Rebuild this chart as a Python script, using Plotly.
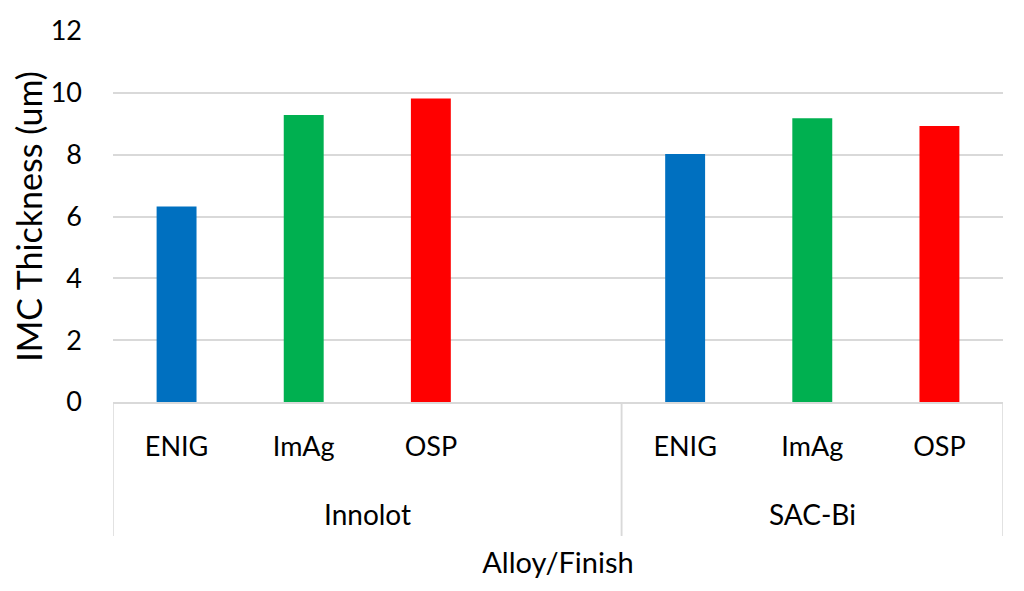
import plotly.graph_objects as go

alloys = ["Innolot", "Innolot", "Innolot", "Innolot", "SAC-Bi", "SAC-Bi", "SAC-Bi"]
finishes = ["ENIG", "ImAg", "OSP", "", "ENIG", "ImAg", "OSP"]
thickness = [6.32, 9.28, 9.82, None, 8.02, 9.18, 8.93]
finish_colors = {"ENIG": "#0070C0", "ImAg": "#00B050", "OSP": "#FF0000", "": "#FFFFFF"}
groups = ["Innolot", "SAC-Bi"]

FONT = "Lato"
GRID = "#D9D9D9"

pos = list(range(len(finishes)))

fig = go.Figure()
fig.add_trace(go.Bar(
    x=pos,
    y=thickness,
    marker=dict(color=[finish_colors[f] for f in finishes], line=dict(width=0)),
    width=0.314,
    showlegend=False,
    hoverinfo="skip",
))

# group labels and dividers, placed through the x axis scale
shapes = []
annotations = []
for g in groups:
    idx = [i for i, a in enumerate(alloys) if a == g]
    annotations.append(dict(
        x=(idx[0] + idx[-1]) / 2, xref="x", y=-0.302, yref="paper",
        text=g, showarrow=False, xanchor="center", yanchor="middle",
        font=dict(family=FONT, size=28, color="#000000"),
    ))
    for b in (idx[0] - 0.5, idx[-1] + 0.5):
        shapes.append(dict(
            type="line", xref="x", yref="paper", x0=b, x1=b, y0=0, y1=-0.361,
            line=dict(color=GRID, width=1.5),
        ))

fig.update_layout(
    width=1016, height=583,
    margin=dict(l=105, r=21, t=23, b=189),
    paper_bgcolor="white", plot_bgcolor="white",
    font=dict(family=FONT, size=27, color="#000000"),
    shapes=shapes,
    annotations=annotations,
    xaxis=dict(
        range=[-0.5, len(finishes) - 0.5],
        tickmode="array", tickvals=pos, ticktext=finishes,
        showline=True, linecolor=GRID, linewidth=1.5,
        showgrid=False, zeroline=False,
        ticks="", ticklabelstandoff=20,
        tickfont=dict(family=FONT, size=27, color="#000000"),
        automargin=False,
        title=dict(text="Alloy/Finish", font=dict(family=FONT, size=29, color="#000000"), standoff=92),
    ),
    yaxis=dict(
        range=[0, 12], dtick=2,
        showgrid=True, gridcolor=GRID, gridwidth=1.5,
        zeroline=False, showline=False,
        ticks="", ticklabelstandoff=30,
        tickfont=dict(family=FONT, size=27, color="#000000"),
        automargin=False,
        title=dict(text="IMC Thickness (um)", font=dict(family=FONT, size=34, color="#000000"), standoff=12),
    ),
)

fig.write_html("out.html")
